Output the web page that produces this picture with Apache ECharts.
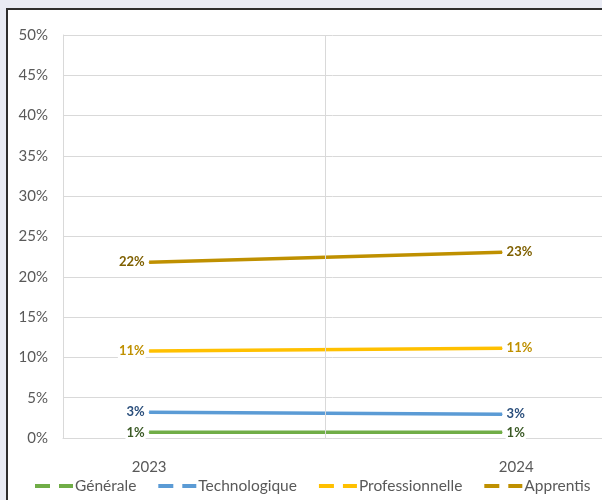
<!DOCTYPE html>
<html>
<head>
<meta charset="utf-8">
<script src="https://cdn.jsdelivr.net/npm/echarts@6/dist/echarts.min.js"></script>
<style>
html, body { margin: 0; padding: 0; background: #e9ebf4; overflow: hidden; }
#frame { position: absolute; left: 6px; top: 8px; width: 640px; height: 540px; border: 2px solid #2e2e2e; background: #fff; }
#main { position: absolute; left: 0; top: 0; width: 602px; height: 500px; }
</style>
</head>
<body>
<div id="frame"></div>
<div id="main"></div>
<script>
// years on the x axis
const years = [2023, 2024];
const seriesNames = ['Générale', 'Technologique', 'Professionnelle', 'Apprentis'];
// share in %
const generale = [0.7, 0.7];
const technologique = [3.2, 2.95];
const professionnelle = [10.8, 11.15];
const apprentis = [21.8, 23.05];

const lineColors = ['#70ad47', '#5b9bd5', '#ffc000', '#bf9000'];
const labelColors = ['#3b5a26', '#2b4f7c', '#bf9000', '#7f6000'];
const values = [generale, technologique, professionnelle, apprentis];

const font = 'Lato';
const chart = echarts.init(document.getElementById('main'), null, { renderer: 'canvas' });

function makeSeries(idx) {
  return {
    name: seriesNames[idx],
    type: 'line',
    z: 3,
    showSymbol: true,
    symbol: 'circle',
    symbolSize: 1,
    lineStyle: { color: lineColors[idx], width: 3.5 },
    itemStyle: { color: lineColors[idx] },
    label: {
      show: true,
      color: labelColors[idx],
      fontFamily: font,
      fontWeight: 'bold',
      fontSize: 13,
      backgroundColor: '#fff',
      padding: [2, 1],
      distance: 3,
      formatter: p => Math.round(p.value[1]) + '%'
    },
    data: years.map((y, i) => ({
      value: [y, values[idx][i]],
      label: { position: i === 0 ? 'left' : 'right' }
    }))
  };
}

const dashIcon = 'path://M0,0h15v4h-15zM24,0h14v4h-14z';

const option = {
  animation: false,
  grid: { left: 63, right: 0, top: 35, bottom: 62, containLabel: false },
  legend: {
    data: seriesNames.map(n => ({ name: n, icon: dashIcon })),
    left: 35,
    top: 478,
    itemWidth: 38,
    itemHeight: 4,
    itemGap: 22,
    padding: 0,
    textStyle: { color: '#595959', fontFamily: font, fontSize: 15.5, padding: [0, 0, 0, -3] }
  },
  xAxis: {
    type: 'value',
    min: 2022.756,
    max: 2024.283,
    axisLine: { show: true, lineStyle: { color: '#d9d9d9' } },
    axisTick: { show: false },
    splitLine: { show: false },
    axisLabel: {
      customValues: [2023, 2024.04],
      formatter: v => String(Math.round(v)),
      color: '#595959',
      fontFamily: font,
      fontSize: 15,
      margin: 22
    }
  },
  yAxis: {
    type: 'value',
    min: 0,
    max: 50,
    interval: 5,
    axisLine: { show: true, lineStyle: { color: '#d9d9d9' } },
    axisTick: { show: false },
    splitLine: { lineStyle: { color: '#d9d9d9', width: 1 } },
    axisLabel: {
      formatter: '{value}%',
      color: '#595959',
      fontFamily: font,
      fontSize: 15,
      margin: 15
    }
  },
  series: [
    {
      name: 'grille',
      type: 'line',
      z: 1,
      data: [],
      markLine: {
        silent: true,
        symbol: ['none', 'none'],
        label: { show: false },
        lineStyle: { color: '#d9d9d9', type: 'solid', width: 1 },
        data: [{ xAxis: 2023.5 }]
      }
    },
    makeSeries(0),
    makeSeries(1),
    makeSeries(2),
    makeSeries(3)
  ]
};

chart.setOption(option);
</script>
</body>
</html>
